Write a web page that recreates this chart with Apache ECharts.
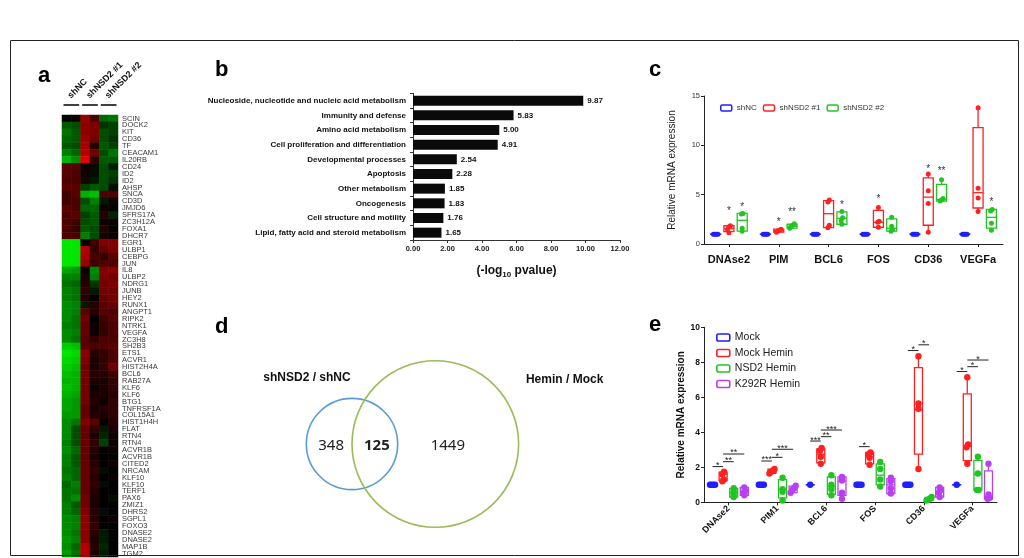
<!DOCTYPE html>
<html><head><meta charset="utf-8">
<script src="https://cdn.jsdelivr.net/npm/echarts@6/dist/echarts.min.js"></script>
<style>html,body{margin:0;padding:0;background:#fff}#c{width:1024px;height:558px}</style>
</head><body><div id="c"></div>
<script>
// ---------------- DATA ----------------
// (a) heatmap
const heatColumns = ['shNC-1','shNC-2','shNSD2#1-1','shNSD2#1-2','shNSD2#2-1','shNSD2#2-2'];
const heatGroups = ['shNC','shNSD2 #1','shNSD2 #2'];
const heatGenes = ['SCIN','DOCK2','KIT','CD36','TF','CEACAM1','IL20RB','CD24','ID2','ID2','AHSP','SNCA','CD3D','JMJD6','SFRS17A','ZC3H12A','FOXA1','DHCR7','EGR1','ULBP1','CEBPG','JUN','IL8','ULBP2','NDRG1','JUNB','HEY2','RUNX1','ANGPT1','RIPK2','NTRK1','VEGFA','ZC3H8','SH2B3','ETS1','ACVR1','HIST2H4A','BCL6','RAB27A','KLF6','KLF6','BTG1','TNFRSF1A','COL15A1','HIST1H4H','FLAT','RTN4','RTN4','ACVR1B','ACVR1B','CITED2','NRCAM','KLF10','KLF10','TERF1','PAX6','ZMIZ1','DHRS2','SGPL1','FOXO3','DNASE2','DNASE2','MAP1B','TGM2'];
const heatValues = [
[0.0,0.05,0.6,0.3,-0.4,-0.45],
[-0.35,-0.3,0.55,0.5,-0.2,-0.25],
[-0.45,-0.35,0.55,0.5,-0.3,-0.25],
[-0.4,-0.35,0.6,0.45,-0.3,-0.2],
[-0.35,-0.3,0.65,0.15,-0.35,-0.25],
[-0.5,-0.4,0.7,0.45,-0.3,-0.45],
[-0.7,-0.55,0.9,0.2,-0.35,-0.35],
[0.35,0.35,0.05,-0.05,-0.3,-0.1],
[0.35,0.3,0.05,-0.05,-0.3,-0.25],
[0.3,0.3,0.1,-0.1,-0.3,-0.2],
[0.35,0.35,-0.25,-0.35,-0.3,-0.05],
[0.25,0.35,-0.7,-0.75,0.3,0.3],
[0.25,0.3,-0.3,-0.5,-0.1,0.05],
[0.35,0.3,-0.4,-0.4,0.05,0.0],
[0.3,0.35,-0.25,-0.35,0.15,-0.15],
[0.3,0.25,-0.3,-0.35,0.05,0.05],
[0.3,0.2,-0.35,-0.3,0.15,0.0],
[0.3,0.3,-0.5,-0.3,0.1,0.05],
[-0.9,-0.9,0.0,0.25,0.5,0.5],
[-0.9,-0.9,0.7,0.2,0.4,0.5],
[-0.9,-0.9,0.65,0.3,0.2,0.35],
[-0.9,-0.9,0.6,0.25,0.3,0.3],
[-0.65,-0.6,0.05,-0.55,0.5,0.55],
[-0.5,-0.5,0.1,-0.5,0.5,0.45],
[-0.45,-0.4,0.15,-0.2,0.45,0.5],
[-0.5,-0.45,0.2,-0.1,0.45,0.45],
[-0.5,-0.45,0.15,0.0,0.4,0.45],
[-0.55,-0.5,-0.1,0.15,0.35,0.4],
[-0.55,-0.5,0.35,0.15,0.35,0.3],
[-0.55,-0.45,0.45,0.0,0.25,0.35],
[-0.5,-0.45,0.4,0.05,0.2,0.3],
[-0.55,-0.5,0.4,0.05,0.2,0.3],
[-0.55,-0.45,0.35,0.2,0.3,0.3],
[-0.8,-0.75,0.35,0.3,0.3,0.35],
[-0.9,-0.85,0.55,0.15,0.2,0.3],
[-0.85,-0.8,0.5,0.1,0.2,0.3],
[-0.8,-0.75,0.45,0.1,0.2,0.45],
[-0.75,-0.7,0.45,0.15,0.15,0.25],
[-0.7,-0.7,0.45,0.1,0.1,0.2],
[-0.75,-0.7,0.45,0.05,0.1,0.2],
[-0.7,-0.65,0.45,0.1,0.1,0.15],
[-0.65,-0.6,0.45,0.15,0.05,0.2],
[-0.65,-0.6,0.4,0.1,0.15,0.2],
[-0.6,-0.6,0.4,0.15,0.1,0.2],
[-0.55,-0.45,0.5,0.35,0.0,0.15],
[-0.55,-0.3,0.4,0.2,-0.1,0.1],
[-0.55,-0.3,0.4,0.1,-0.15,0.05],
[-0.5,-0.3,0.4,0.2,-0.25,0.05],
[-0.55,-0.4,0.4,0.15,0.0,0.05],
[-0.5,-0.35,0.4,0.1,0.0,0.0],
[-0.5,-0.35,0.4,0.15,0.0,0.05],
[-0.45,-0.4,0.4,0.2,-0.05,0.0],
[-0.5,-0.4,0.4,0.15,0.0,0.05],
[-0.4,-0.5,0.4,0.2,-0.05,0.0],
[-0.45,-0.45,0.4,0.15,0.0,0.0],
[-0.45,-0.55,0.45,0.1,0.0,-0.05],
[-0.5,-0.35,0.45,0.1,0.0,0.0],
[-0.5,-0.4,0.5,0.15,-0.05,0.0],
[-0.55,-0.5,0.55,0.15,0.0,0.05],
[-0.55,-0.5,0.55,0.2,0.0,0.0],
[-0.55,-0.45,0.55,0.15,-0.1,0.0],
[-0.6,-0.5,0.55,0.1,-0.1,0.0],
[-0.55,-0.4,0.7,0.15,-0.15,0.0],
[-0.6,-0.45,0.7,0.1,-0.1,0.0]
];

// (b) GO categories
const goTerms = ['Nucleoside, nucleotide and nucleic acid metabolism','Immunity and defense','Amino acid metabolism','Cell proliferation and differentiation','Developmental processes','Apoptosis','Other metabolism','Oncogenesis','Cell structure and motility','Lipid, fatty acid and steroid metabolism'];
const goValues = [9.87, 5.83, 5.00, 4.91, 2.54, 2.28, 1.85, 1.83, 1.76, 1.65];

// (c) qPCR shNSD2  box = [min, q1, median, q3, max]
const cGenes = ['DNAse2','PIM','BCL6','FOS','CD36','VEGFa'];
const cGroups = ['shNC','shNSD2 #1','shNSD2 #2'];
const cBoxShNC = [[1,1,1,1,1],[1,1,1,1,1],[1,1,1,1,1],[1,1,1,1,1],[1,1,1,1,1],[1,1,1,1,1]];
const cBoxSh1 = [[1.12,1.25,1.55,1.85,1.88],[1.15,1.2,1.35,1.5,1.55],[1.6,1.65,3.07,4.4,4.45],[1.65,1.7,2.2,3.4,3.7],[1.2,1.9,4.75,6.7,7.1],[3.3,3.65,5.2,11.8,13.8]];
const cBoxSh2 = [[1.2,1.3,2.4,3.1,3.12],[1.55,1.6,1.8,2.0,2.1],[1.95,2.0,2.6,3.25,3.35],[1.25,1.3,1.6,2.55,2.75],[4.3,4.35,4.5,6.05,6.55],[1.4,1.6,2.7,3.5,3.6]];
const cPtsShNC = [[1,1,1,1],[1,1,1,1],[1,1,1,1],[1,1,1,1],[1,1,1,1],[1,1,1,1]];
const cPtsSh1 = [[1.15,1.5,1.75,1.85],[1.2,1.35,1.4,1.5],[1.65,1.9,4.25,4.45],[1.7,2.2,2.3,3.7],[1.2,4.1,5.4,7.1],[3.3,4.65,5.65,13.8]];
const cPtsSh2 = [[1.3,1.6,3.05,3.1],[1.6,1.75,1.9,2.05],[2.0,2.35,2.65,3.3],[1.3,1.45,1.8,2.7],[4.35,4.45,4.6,6.5],[1.4,2.1,3.35,3.5]];
// [gene, group, y, mark]
const cStars = [[0,1,3.5,'*'],[0,2,3.9,'*'],[1,1,2.4,'*'],[1,2,3.47,'**'],[2,2,4.15,'*'],[3,1,4.7,'*'],[4,1,7.8,'*'],[4,2,7.6,'**'],[5,2,4.4,'*']];

// (d) Venn
const vennSets = ['shNSD2 / shNC','Hemin / Mock'];
const vennOnly = [348, 1449];
const vennBoth = 125;

// (e) qPCR hemin
const eGenes = ['DNAse2','PIM1','BCL6','FOS','CD36','VEGFa'];
const eGroups = ['Mock','Mock Hemin','NSD2 Hemin','K292R Hemin'];
const eBoxMock = [[1,1,1,1,1],[1,1,1,1,1],[1,1,1,1,1],[1,1,1,1,1],[1,1,1,1,1],[1,1,1,1,1]];
const eBoxMH = [[1.18,1.24,1.6,1.72,1.78],[1.6,1.65,1.8,1.9,1.95],[2.2,2.25,2.75,3.05,3.1],[2.15,2.2,2.6,2.85,2.9],[1.9,2.75,5.3,7.7,8.4],[2.2,2.38,3.22,6.2,7.15]];
const eBoxNSD2 = [[0.28,0.3,0.55,0.8,0.82],[0.08,0.25,0.75,1.3,1.4],[0.38,0.45,0.9,1.45,1.55],[0.9,1.0,1.55,2.2,2.3],[0.08,0.1,0.18,0.28,0.32],[0.68,0.7,1.6,2.4,2.62]];
const eBoxK292R = [[0.35,0.4,0.6,0.85,0.88],[0.5,0.55,0.75,0.92,0.95],[0.2,0.4,1.2,1.45,1.5],[0.45,0.5,1.0,1.35,1.4],[0.28,0.3,0.6,0.85,0.9],[0.15,0.18,0.35,1.8,2.2]];
const ePtsMock = [[1,1,1,1],[1,1,1,1],[1],[1,1,1,1],[1,1,1,1],[1]];
const ePtsMH = [[1.2,1.3,1.6,1.75],[1.65,1.75,1.8,1.9],[2.2,2.6,2.95,3.1],[2.15,2.55,2.75,2.85],[1.9,5.35,5.65,8.35],[2.2,3.15,3.3,7.15]];
const ePtsNSD2 = [[0.3,0.45,0.65,0.8],[0.1,0.6,0.75,1.4],[0.4,0.75,1.0,1.55],[0.9,1.3,1.9,2.3],[0.1,0.15,0.2,0.3],[0.7,0.7,1.65,2.6]];
const ePtsK292R = [[0.4,0.55,0.65,0.85],[0.55,0.7,0.8,0.95],[0.2,0.55,1.25,1.45],[0.5,0.8,1.2,1.4],[0.3,0.55,0.7,0.85],[0.2,0.25,0.45,2.2]];
// [gene, fromGroup, toGroup, y, mark]
const eSig = [[0,0,1,2.04,'*'],[0,1,2,2.32,'**'],[0,1,3,2.76,'**'],[1,0,1,2.36,'***'],[1,1,2,2.57,'*'],[1,1,3,3.03,'***'],[2,0,1,3.5,'***'],[2,1,2,3.75,'**'],[2,1,3,4.13,'***'],[3,0,1,3.18,'*'],[4,0,1,8.67,'*'],[4,1,2,9.0,'*'],[5,0,1,7.47,'*'],[5,1,2,7.75,'*'],[5,1,3,8.13,'*']];

// ---------------- STYLE / HELPERS ----------------
const FONT = "'Liberation Sans', Arial, sans-serif";
const cColors = ['#1f1fff','#ff2020','#22c322'];
const eColors = ['#1f1fff','#ff2020','#22c322','#b93ff0'];
const C_SPACING = 13.3, C_HALF = 5, E_SPACING = 10.6, E_HALF = 4;

function spreadOffsets(vals, tol, step) {
  const idx = vals.map((v, i) => i).sort((a, b) => vals[a] - vals[b]);
  const off = new Array(vals.length).fill(0);
  let start = 0;
  for (let i = 1; i <= idx.length; i++) {
    if (i === idx.length || vals[idx[i]] - vals[idx[i - 1]] > tol) {
      const k = i - start;
      for (let j = 0; j < k; j++) off[idx[start + j]] = (j - (k - 1) / 2) * step;
      start = i;
    }
  }
  return off;
}

function boxSeries(name, boxes, g, nGroups, spacing, half, color, xi, yi) {
  const goff = (g - (nGroups - 1) / 2) * spacing;
  return {
    type: 'custom', name, xAxisIndex: xi, yAxisIndex: yi, itemStyle: {color},
    encode: {x: 0, y: [1, 2, 3, 4, 5]},
    data: boxes.map((b, i) => [i, ...b]),
    renderItem: (params, api) => {
      const ci = api.value(0);
      const x = api.coord([ci, 0])[0] + goff;
      const y = k => api.coord([ci, api.value(k)])[1];
      const yMin = y(1), yQ1 = y(2), yMed = y(3), yQ3 = y(4), yMax = y(5);
      const st = {stroke: color, lineWidth: 1.3, fill: null};
      return {type: 'group', children: [
        {type: 'line', shape: {x1: x, y1: yQ3, x2: x, y2: yMax}, style: st},
        {type: 'line', shape: {x1: x, y1: yQ1, x2: x, y2: yMin}, style: st},
        {type: 'rect', shape: {x: x - half, y: yQ3, width: half * 2, height: Math.max(yQ1 - yQ3, 0.01)}, style: {stroke: color, lineWidth: 1.3, fill: 'rgba(255,255,255,0)'}},
        {type: 'line', shape: {x1: x - half, y1: yMed, x2: x + half, y2: yMed}, style: st}
      ]};
    }
  };
}

function pointSeries(name, pts, g, nGroups, spacing, color, xi, yi, tol, step, r) {
  const goff = (g - (nGroups - 1) / 2) * spacing;
  const data = [];
  pts.forEach((arr, i) => {
    const offs = spreadOffsets(arr, tol, step);
    arr.forEach((v, j) => data.push([i, v, offs[j]]));
  });
  return {
    type: 'custom', name, xAxisIndex: xi, yAxisIndex: yi, itemStyle: {color},
    encode: {x: 0, y: 1}, data,
    renderItem: (params, api) => {
      const p = api.coord([api.value(0), api.value(1)]);
      return {type: 'circle', shape: {cx: p[0] + goff + api.value(2), cy: p[1], r}, style: {fill: color}};
    }
  };
}

// Venn geometry derived from set sizes (area-proportional radii)
const VENN_K = 2.1, VENN_CX = 352, VENN_CY = 444;
function vennGeom() {
  const rB = VENN_K * Math.sqrt(vennOnly[0] + vennBoth);
  const rG = VENN_K * Math.sqrt(vennOnly[1] + vennBoth);
  return {b: {cx: VENN_CX, cy: VENN_CY, r: rB}, g: {cx: VENN_CX + rG, cy: VENN_CY, r: rG}};
}

// ---------------- CHART ----------------
const chart = echarts.init(document.getElementById('c'));

const heatData = [];
heatValues.forEach((row, r) => row.forEach((v, c) => heatData.push([c, r, v])));

const axisLineDark = {show: true, lineStyle: {color: '#222', width: 1}};

const series = [
  {type: 'heatmap', xAxisIndex: 0, yAxisIndex: 0, data: heatData, emphasis: {disabled: true}, itemStyle: {borderWidth: 0}},
  // group headers (rotated) + underlines
  {type: 'custom', xAxisIndex: 1, yAxisIndex: 0, data: heatGroups.map((g, i) => [i, 0]), encode: {x: 0, y: 1}, silent: true,
    renderItem: (params, api) => {
      const i = params.dataIndex;
      const x = api.coord([api.value(0), 0])[0];
      const w = api.size([1, 0])[0];
      const y = params.coordSys.y - 10;
      return {type: 'group', children: [
        {type: 'line', shape: {x1: x - w / 2 + 1.5, y1: y, x2: x + w / 2 - 1.5, y2: y}, style: {stroke: '#000', lineWidth: 1.5}},
        {type: 'text', x: x - 2, y: y - 8, rotation: Math.PI / 4,
          style: {text: heatGroups[i], font: 'bold 9px ' + FONT, fill: '#111', align: 'left', verticalAlign: 'middle'}}
      ]};
    }},
  {type: 'bar', xAxisIndex: 2, yAxisIndex: 1, data: goValues, barWidth: 10,
    itemStyle: {color: '#0a0a0a'},
    label: {show: true, position: 'right', distance: 4, fontSize: 8, fontWeight: 'bold', color: '#111', formatter: p => p.value.toFixed(2)}}
];

[cBoxShNC, cBoxSh1, cBoxSh2].forEach((b, g) => series.push(boxSeries(cGroups[g], b, g, 3, C_SPACING, C_HALF, cColors[g], 3, 2)));
[cPtsShNC, cPtsSh1, cPtsSh2].forEach((p, g) => series.push(pointSeries(cGroups[g], p, g, 3, C_SPACING, cColors[g], 3, 2, 0.3, 1.5, 2.5)));
series.push({type: 'custom', xAxisIndex: 3, yAxisIndex: 2, data: cStars.map(s => [s[0], s[2]]), encode: {x: 0, y: 1}, silent: true,
  renderItem: (params, api) => {
    const s = cStars[params.dataIndex];
    const p = api.coord([s[0], s[2]]);
    return {type: 'text', x: p[0] + (s[1] - 1) * C_SPACING, y: p[1] + 2,
      style: {text: s[3], fontSize: 10, fontFamily: FONT, fill: '#333', align: 'center', verticalAlign: 'middle'}};
  }});

[eBoxMock, eBoxMH, eBoxNSD2, eBoxK292R].forEach((b, g) => series.push(boxSeries(eGroups[g], b, g, 4, E_SPACING, E_HALF, eColors[g], 4, 3)));
[ePtsMock, ePtsMH, ePtsNSD2, ePtsK292R].forEach((p, g) => series.push(pointSeries(eGroups[g], p, g, 4, E_SPACING, eColors[g], 4, 3, 0.15, 1.7, 3.2)));
series.push({type: 'custom', xAxisIndex: 4, yAxisIndex: 3, data: eSig.map(s => [s[0], s[3]]), encode: {x: 0, y: 1}, silent: true,
  renderItem: (params, api) => {
    const s = eSig[params.dataIndex];
    const p = api.coord([s[0], s[3]]);
    const x1 = p[0] + (s[1] - 1.5) * E_SPACING, x2 = p[0] + (s[2] - 1.5) * E_SPACING;
    return {type: 'group', children: [
      {type: 'line', shape: {x1, y1: p[1], x2, y2: p[1]}, style: {stroke: '#222', lineWidth: 1}},
      {type: 'text', x: (x1 + x2) / 2, y: p[1] - 1, style: {text: s[4], fontSize: 9, fontFamily: FONT, fill: '#222', align: 'center', verticalAlign: 'middle'}}
    ]};
  }});

// Venn circles + labels
series.push({type: 'custom', coordinateSystem: 'none', silent: true,
  data: vennSets.map((s, i) => [vennOnly[i] + vennBoth]),
  renderItem: (params) => {
    const G = vennGeom();
    const i = params.dataIndex;
    const c = i === 0 ? G.b : G.g;
    const lbl = i === 0
      ? {x: c.cx - 45, y: c.cy - c.r - 21}
      : {x: c.cx + c.r + 46, y: c.cy - 64};
    return {type: 'group', children: [
      {type: 'circle', shape: {cx: c.cx, cy: c.cy, r: c.r}, style: {fill: null, stroke: i === 0 ? '#5b9bd5' : '#9bbb59', lineWidth: 1.6}},
      {type: 'text', x: lbl.x, y: lbl.y, style: {text: vennSets[i], font: "bold 12px " + FONT, fill: '#111', align: 'center', verticalAlign: 'middle'}}
    ]};
  }});
series.push({type: 'custom', coordinateSystem: 'none', silent: true,
  data: [[vennOnly[0]], [vennBoth], [vennOnly[1]]],
  renderItem: (params, api) => {
    const G = vennGeom();
    const i = params.dataIndex;
    const xs = [(G.b.cx - G.b.r + G.g.cx - G.g.r) / 2 + 2, (G.g.cx - G.g.r + G.b.cx + G.b.r) / 2 + 2, G.g.cx + G.g.r * 0.15];
    return {type: 'text', x: xs[i], y: G.b.cy + 2,
      style: {text: String(api.value(0)), font: (i === 1 ? 'bold ' : '') + "15px 'Noto Sans', sans-serif", fill: '#222', align: 'center', verticalAlign: 'middle'}};
  }});

const letter = (t, left, top) => ({type: 'text', left, top, style: {text: t, font: "bold 22px " + FONT, fill: '#000'}});

const option = {
  animation: false,
  backgroundColor: '#fff',
  textStyle: {fontFamily: FONT},
  graphic: [
    {type: 'rect', shape: {x: 10.5, y: 40.5, width: 1008, height: 515}, style: {fill: null, stroke: '#222', lineWidth: 1}, z: 100},
    letter('a', 38, 65), letter('b', 215, 59), letter('c', 649, 59), letter('d', 215, 316), letter('e', 649, 314)
  ],
  visualMap: [{show: false, seriesIndex: 0, min: -1, max: 1, dimension: 2, inRange: {color: ['#00ff00', '#000000', '#ff0000']}}],
  legend: [
    {left: 715, top: 99, itemWidth: 11, itemHeight: 6, itemGap: 6, selectedMode: false,
      textStyle: {fontSize: 8, color: '#333', fontFamily: FONT},
      data: cGroups.map((n, g) => ({name: n, icon: 'roundRect', itemStyle: {color: 'rgba(255,255,255,0)', borderColor: cColors[g], borderWidth: 1.5}}))},
    {left: 711, top: 327, orient: 'vertical', itemWidth: 13, itemHeight: 7, itemGap: 4.5, selectedMode: false,
      textStyle: {fontSize: 10.5, color: '#222', fontFamily: FONT},
      data: eGroups.map((n, g) => ({name: n, icon: 'roundRect', itemStyle: {color: 'rgba(255,255,255,0)', borderColor: eColors[g], borderWidth: 1.6}}))}
  ],
  grid: [
    {left: 62, top: 115, width: 56, height: 442},
    {left: 413, top: 93.3, width: 207, height: 146.7},
    {left: 704, top: 96, width: 299, height: 148},
    {left: 704, top: 327.3, width: 293, height: 175}
  ],
  xAxis: [
    {gridIndex: 0, type: 'category', data: heatColumns, show: false},
    {gridIndex: 0, type: 'category', data: heatGroups, position: 'top', axisLine: {show: false}, axisTick: {show: false}, axisLabel: {show: false}},
    {gridIndex: 1, type: 'value', min: 0, max: 12, interval: 2, splitLine: {show: false},
      axisLine: {show: true, lineStyle: {color: '#333'}}, axisTick: {show: true, length: 3, lineStyle: {color: '#333'}},
      axisLabel: {fontSize: 7.5, fontWeight: 'bold', color: '#222', margin: 5, formatter: v => v.toFixed(2)},
      name: '(-log{s|10} pvalue)', nameLocation: 'middle', nameGap: 23,
      nameTextStyle: {fontSize: 12, fontWeight: 'bold', color: '#111', lineHeight: 16,
        rich: {s: {fontSize: 8, fontWeight: 'bold', color: '#111', verticalAlign: 'bottom', lineHeight: 10}}}},
    {gridIndex: 2, type: 'category', data: cGenes, axisLine: axisLineDark,
      axisTick: {show: true, alignWithLabel: true, length: 3, lineStyle: {color: '#222'}},
      axisLabel: {fontSize: 11, fontWeight: 'bold', color: '#111', margin: 10, interval: 0}},
    {gridIndex: 3, type: 'category', data: eGenes, axisLine: axisLineDark,
      axisTick: {show: true, alignWithLabel: true, length: 3, lineStyle: {color: '#222'}},
      axisLabel: {fontSize: 9, fontWeight: 'bold', color: '#111', margin: 5, rotate: 45, interval: 0}}
  ],
  yAxis: [
    {gridIndex: 0, type: 'category', data: heatGenes, inverse: true, position: 'right', axisLine: {show: false}, axisTick: {show: false},
      axisLabel: {interval: 0, fontSize: 7.5, color: '#3a3a3a', margin: 4}},
    {gridIndex: 1, type: 'category', data: goTerms, inverse: true, axisLine: {show: true, lineStyle: {color: '#333'}},
      axisTick: {show: true, length: 3, lineStyle: {color: '#333'}},
      axisLabel: {fontSize: 8, fontWeight: 'bold', color: '#111', margin: 7, interval: 0}},
    {gridIndex: 2, type: 'value', min: 0, max: 15, interval: 5, splitLine: {show: false}, axisLine: axisLineDark,
      axisTick: {show: true, length: 3, lineStyle: {color: '#222'}},
      axisLabel: {fontSize: 7.5, color: '#333', margin: 4},
      name: 'Relative mRNA expression', nameLocation: 'middle', nameGap: 27, nameRotate: 90,
      nameTextStyle: {fontSize: 10, color: '#222'}},
    {gridIndex: 3, type: 'value', min: 0, max: 10, interval: 2, splitLine: {show: false}, axisLine: axisLineDark,
      axisTick: {show: true, length: 3, lineStyle: {color: '#222'}},
      axisLabel: {fontSize: 8.5, fontWeight: 'bold', color: '#111', margin: 4},
      name: 'Relative mRNA expression', nameLocation: 'middle', nameGap: 15, nameRotate: 90,
      nameTextStyle: {fontSize: 10, fontWeight: 'bold', color: '#111'}}
  ],
  series
};
chart.setOption(option);
</script>
</body></html>
